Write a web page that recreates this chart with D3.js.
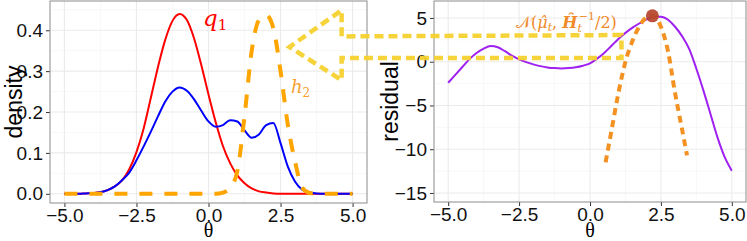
<!DOCTYPE html>
<html>
<head>
<meta charset="utf-8">
<script src="https://cdn.jsdelivr.net/npm/d3@7"></script>
<style>
  body { margin: 0; background: #fff; }
  .tick text { font-family: "Liberation Sans", Arial, sans-serif; font-size: 19px; fill: #111; }
  .tick line { stroke: #333; }
  .title { font-family: "Liberation Sans", Arial, sans-serif; font-size: 23px; fill: #000; }
</style>
</head>
<body>
<div id="chart"></div>
<script>
// theta grid shared by the density curves
var theta = [-5, -4.75, -4.5, -4.25, -4, -3.75, -3.5, -3.25, -3, -2.75, -2.5, -2.25, -2, -1.75, -1.5, -1.25,
  -1, -0.75, -0.5, -0.25, 0, 0.25, 0.5, 0.75, 1, 1.25, 1.5, 1.75, 2, 2.25, 2.5, 2.75, 3, 3.25, 3.5, 3.75,
  4, 4.25, 4.5, 4.75, 5];

// left panel: densities
var q1 = [0, 0, 0, 0.001, 0.002, 0.004, 0.009, 0.018, 0.033, 0.060, 0.102, 0.160, 0.235, 0.311, 0.377, 0.423,
  0.440, 0.425, 0.380, 0.315, 0.243, 0.175, 0.117, 0.075, 0.045, 0.026, 0.013, 0.006, 0.003, 0.001, 0, 0,
  0, 0, 0, 0, 0, 0, 0, 0, 0];
var mix = [0, 0, 0, 0.001, 0.002, 0.004, 0.009, 0.018, 0.033, 0.052, 0.082, 0.116, 0.152, 0.190, 0.226, 0.250,
  0.260, 0.252, 0.231, 0.203, 0.177, 0.164, 0.168, 0.180, 0.177, 0.155, 0.137, 0.145, 0.168, 0.173, 0.124, 0.067,
  0.030, 0.010, 0.003, 0.001, 0, 0, 0, 0, 0];
var h2 = [0, 0, 0, 0, 0, 0, 0, 0, 0, 0, 0, 0, 0, 0, 0, 0,
  0, 0, 0, 0, 0, 0, 0.003, 0.015, 0.055, 0.190, 0.350, 0.425, 0.437, 0.405, 0.300, 0.170,
  0.080, 0.015, 0.002, 0, 0, 0, 0, 0, 0];

// right panel: residual
var residual = [-2.4, -1.5, -0.6, 0.3, 1.0, 1.5, 1.79, 1.65, 1.2, 0.7, 0.27, -0.05, -0.3, -0.5, -0.65, -0.73,
  -0.76, -0.72, -0.63, -0.45, -0.18, 0.35, 1.0, 1.8, 2.6, 3.3, 3.9, 4.4, 4.85, 5.15, 5.15, 4.8,
  4.0, 2.9, 1.45, -0.8, -3.3, -6.0, -8.7, -10.9, -12.45];

// laplace approximation (parabola)
var lapTheta = [0.55, 0.75, 1.0, 1.25, 1.5, 1.75, 2.0, 2.2, 2.5, 2.75, 3.0, 3.25, 3.42];
var lapValue = [-11.5, -8.0, -3.6, 0.0, 2.4, 4.1, 5.1, 5.25, 4.0, 1.2, -3.6, -7.8, -10.7];
var mode = { theta: 2.2, value: 5.25 };

// arrow: two ends in the right panel, the head in the left panel
var arrowLeft = [[4.62, 0.385], [4.62, 0.449], [2.81, 0.359], [4.62, 0.278], [4.62, 0.332]];
var arrowRight = [[1.11, 0.42], [1.11, 3.05]];

var xTicks = [-5, -2.5, 0, 2.5, 5];
var xMinor = [-3.75, -1.25, 1.25, 3.75];
var densTicks = [0, 0.1, 0.2, 0.3, 0.4];
var densMinor = [0.05, 0.15, 0.25, 0.35, 0.45];
var resTicks = [-15, -10, -5, 0, 5];
var resMinor = [-12.5, -7.5, -2.5, 2.5];

var svg = d3.select("#chart").append("svg")
  .attr("width", 747)
  .attr("height", 241);

var left = { x0: 50, x1: 367, y0: 1, y1: 203 };
var right = { x0: 434, x1: 746, y0: 1, y1: 202 };

var xL = d3.scaleLinear().domain([-5.5, 5.5]).range([left.x0, left.x1]);
var yL = d3.scaleLinear().domain([-0.0225, 0.4716]).range([left.y1, left.y0]);
var xR = d3.scaleLinear().domain([-5.5, 5.5]).range([right.x0, right.x1]);
var yR = d3.scaleLinear().domain([-16.03, 6.94]).range([right.y1, right.y0]);

// panel background, grid, axes
function drawPanel(p, x, y, yTicks, yMinor, yFmt) {
  var g = svg.append("g");
  g.append("rect").attr("x", p.x0).attr("y", p.y0)
    .attr("width", p.x1 - p.x0).attr("height", p.y1 - p.y0).attr("fill", "#fff");

  g.selectAll(".vminor").data(xMinor).enter().append("line")
    .attr("x1", x).attr("x2", x).attr("y1", p.y0).attr("y2", p.y1)
    .attr("stroke", "#f4f4f4").attr("stroke-width", 0.6);
  g.selectAll(".hminor").data(yMinor).enter().append("line")
    .attr("y1", y).attr("y2", y).attr("x1", p.x0).attr("x2", p.x1)
    .attr("stroke", "#f4f4f4").attr("stroke-width", 0.6);
  g.selectAll(".vmajor").data(xTicks).enter().append("line")
    .attr("x1", x).attr("x2", x).attr("y1", p.y0).attr("y2", p.y1)
    .attr("stroke", "#ebebeb").attr("stroke-width", 1.1);
  g.selectAll(".hmajor").data(yTicks).enter().append("line")
    .attr("y1", y).attr("y2", y).attr("x1", p.x0).attr("x2", p.x1)
    .attr("stroke", "#ebebeb").attr("stroke-width", 1.1);

  var ax = g.append("g").attr("transform", "translate(0," + p.y1 + ")")
    .call(d3.axisBottom(x).tickValues(xTicks).tickFormat(d3.format(".1f")).tickSize(4).tickPadding(2));
  ax.select(".domain").remove();

  var ay = g.append("g").attr("transform", "translate(" + p.x0 + ",0)")
    .call(d3.axisLeft(y).tickValues(yTicks).tickFormat(yFmt).tickSize(4).tickPadding(3));
  ay.select(".domain").remove();

  return g;
}

function drawBorder(p) {
  svg.append("rect").attr("x", p.x0).attr("y", p.y0)
    .attr("width", p.x1 - p.x0).attr("height", p.y1 - p.y0)
    .attr("fill", "none").attr("stroke", "#8c8c8c").attr("stroke-width", 1);
}

drawPanel(left, xL, yL, densTicks, densMinor, d3.format(".1f"));
drawPanel(right, xR, yR, resTicks, resMinor, d3.format("d"));

// curves
function curve(xs, ys, x, y) {
  return d3.line()
    .x(function (d, i) { return x(xs[i]); })
    .y(function (d) { return y(d); })
    .curve(d3.curveMonotoneX)(ys);
}

svg.append("path").attr("d", curve(theta, q1, xL, yL))
  .attr("fill", "none").attr("stroke", "#ff0000").attr("stroke-width", 2);
svg.append("path").attr("d", curve(theta, mix, xL, yL))
  .attr("fill", "none").attr("stroke", "#0000ff").attr("stroke-width", 2);
svg.append("path").attr("d", curve(theta, h2, xL, yL))
  .attr("fill", "none").attr("stroke", "#ffa500").attr("stroke-width", 4)
  .attr("stroke-dasharray", "13,12");

svg.append("path").attr("d", curve(theta, residual, xR, yR))
  .attr("fill", "none").attr("stroke", "#a020f0").attr("stroke-width", 2);
svg.append("path").attr("d", curve(lapTheta, lapValue, xR, yR))
  .attr("fill", "none").attr("stroke", "#f39223").attr("stroke-width", 4)
  .attr("stroke-dasharray", "7,5");
svg.append("circle").attr("cx", xR(mode.theta)).attr("cy", yR(mode.value)).attr("r", 6.5)
  .attr("fill", "#b4432c").attr("opacity", 0.92);

drawBorder(left);
drawBorder(right);

// yellow arrow between panels
var arrowPts = [[xR(arrowRight[1][0]), yR(arrowRight[1][1])]]
  .concat(arrowLeft.map(function (d) { return [xL(d[0]), yL(d[1])]; }))
  .concat([[xR(arrowRight[0][0]), yR(arrowRight[0][1])]]);
svg.append("path").attr("d", d3.line()(arrowPts) + "Z")
  .attr("fill", "none").attr("stroke", "#f5d12e").attr("stroke-width", 4.5)
  .attr("stroke-dasharray", "9,5").attr("opacity", 0.95);

// axis titles
svg.append("text").attr("class", "title")
  .attr("transform", "translate(22," + ((left.y0 + left.y1) / 2) + ") rotate(-90)")
  .attr("text-anchor", "middle").text("density");
svg.append("text").attr("class", "title")
  .attr("transform", "translate(398," + ((right.y0 + right.y1) / 2) + ") rotate(-90)")
  .attr("text-anchor", "middle").text("residual");
svg.append("text").attr("x", (left.x0 + left.x1) / 2).attr("y", 237)
  .attr("text-anchor", "middle").attr("font-family", "Liberation Serif, serif")
  .attr("font-size", 20).text("θ");
svg.append("text").attr("x", (right.x0 + right.x1) / 2).attr("y", 237)
  .attr("text-anchor", "middle").attr("font-family", "Liberation Serif, serif")
  .attr("font-size", 20).text("θ");

// curve labels
var lq = svg.append("text").attr("x", 203).attr("y", 26)
  .attr("font-family", "DejaVu Serif, serif").attr("fill", "#ff0000").attr("font-size", 23);
lq.append("tspan").attr("font-style", "italic").text("q");
lq.append("tspan").attr("font-size", 15).attr("dy", 4).text("1");

var lh = svg.append("text").attr("x", 291).attr("y", 93)
  .attr("font-family", "DejaVu Serif, serif").attr("fill", "#f7a030").attr("font-size", 18);
lh.append("tspan").attr("font-style", "italic").text("h");
lh.append("tspan").attr("font-size", 12).attr("dy", 4).text("2");

var ln = svg.append("text").attr("x", 516).attr("y", 28)
  .attr("font-family", "DejaVu Serif, serif").attr("fill", "#f08a2a").attr("font-size", 16);
ln.append("tspan").text("𝒩(");
ln.append("tspan").attr("font-style", "italic").text("μ\u0302");
ln.append("tspan").attr("font-size", 11).attr("font-style", "italic").attr("dy", 3).text("t");
ln.append("tspan").attr("dy", -3).text(", ");
ln.append("tspan").attr("font-style", "italic").attr("font-weight", "bold").text("H\u0302");
ln.append("tspan").attr("font-size", 11).attr("font-style", "italic").attr("dy", 4).text("t");
ln.append("tspan").attr("font-size", 11).attr("dy", -12).attr("dx", -3).text("−1");
ln.append("tspan").attr("dy", 8).text("/2)");
</script>
</body>
</html>
